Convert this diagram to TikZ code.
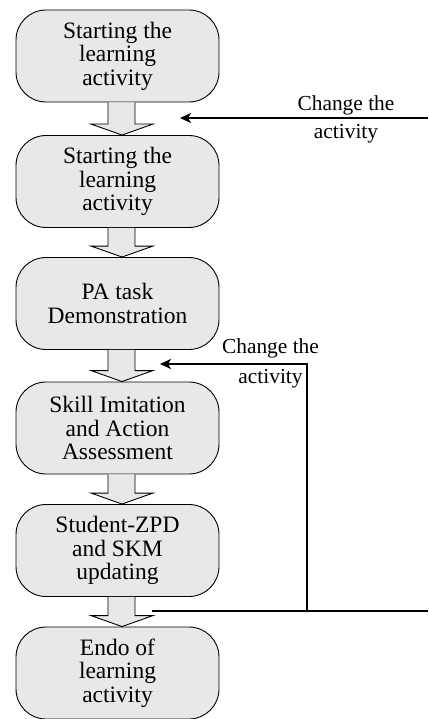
\documentclass[tikz,border=0pt]{standalone}
\usepackage{fontspec}
\setmainfont{Liberation Serif}
\usetikzlibrary{arrows.meta,calc}
\definecolor{boxfill}{HTML}{E8E8E8}
\newcommand\blockarr[2]{\draw[blockarrow] let \p1=(#1.south), \p2=(#2.north) in
  (\x1-9.5pt,\y1) -- (\x1-9.5pt,\y2+11pt) -- (\x1-26.5pt,\y2+11pt) -- (\x1+4.5pt,\y2)
  -- (\x1+35.5pt,\y2+11pt) -- (\x1+17.5pt,\y2+11pt) -- (\x1+17.5pt,\y1);}
\begin{document}
\begin{tikzpicture}[x=1pt,y=-1pt,
 stepbox/.style={draw=black, line width=0.9pt, fill=boxfill, rounded corners=30pt,
   minimum width=203pt, minimum height=92pt, inner sep=0pt, align=center,
   font=\rmfamily\fontsize{23.5}{23.5}\selectfont},
 blockarrow/.style={draw=black, line width=0.9pt, fill=boxfill, line join=miter},
 flow/.style={line width=1.8pt, draw=black},
 flowarrow/.style={flow, -{Stealth[length=11pt,width=10pt,inset=3pt]}},
 lbl/.style={inner sep=0pt, align=center}
]
\useasboundingbox (0,0) rectangle (428,719);
\node[stepbox] (s1) at (117.5,56) {Starting the\\learning\\activity};
\node[stepbox] (s2) at (117.5,181.5) {Starting the\\learning\\activity};
\node[stepbox] (s3) at (117.5,303.5) {PA task\\Demonstration};
\node[stepbox] (s4) at (117.5,428) {Skill Imitation\\and Action\\Assessment};
\node[stepbox] (s5) at (117.5,550.5) {Student-ZPD\\and SKM\\updating};
\node[stepbox] (s6) at (117.5,673) {Endo of\\learning\\activity};
\blockarr{s1}{s2}
\blockarr{s2}{s3}
\blockarr{s3}{s4}
\blockarr{s4}{s5}
\blockarr{s5}{s6}
\coordinate (in1) at (428,118);
\coordinate (t1) at (180,118);
\draw[flowarrow] (in1) -- (t1);
\node[lbl, font=\rmfamily\fontsize{21.4}{28}\selectfont] (c1) at (346,119) {Change the\\activity};
\coordinate (lb) at (152,611);
\coordinate (lr) at (428,611);
\coordinate (lj) at (307,611);
\coordinate (lt) at (160,364);
\draw[flow] (lb) -- (lr);
\draw[flowarrow] (lj) |- (lt);
\node[lbl, font=\rmfamily\fontsize{21.4}{30}\selectfont] (c2) at (270.5,363.3) {Change the\\activity};
\end{tikzpicture}
\end{document}
